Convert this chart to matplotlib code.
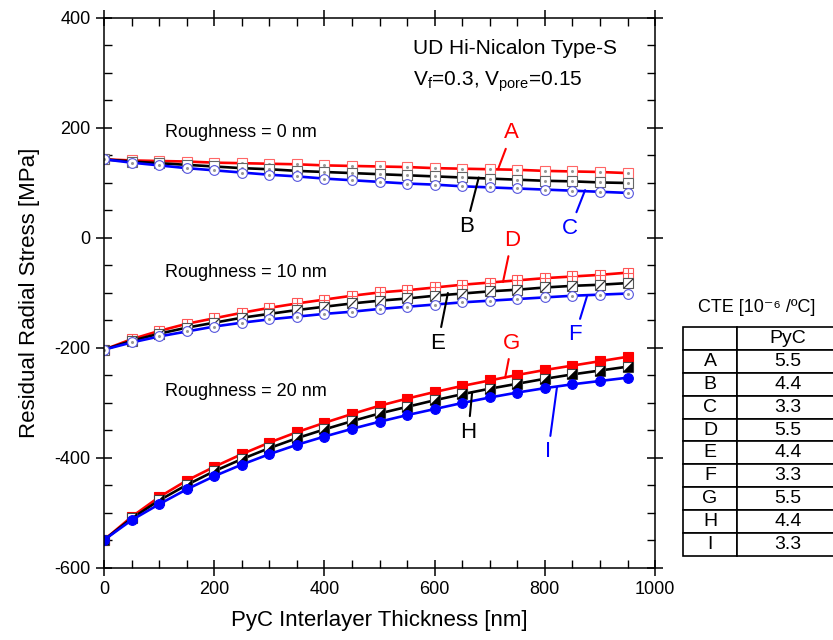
## Residual radial stress vs PyC interlayer thickness
## Three roughness levels, three PyC CTE values each

import matplotlib
matplotlib.use('Agg')
import matplotlib.pyplot as plt
from matplotlib.path import Path
from matplotlib.ticker import MultipleLocator

plt.rcParams['font.family'] = ['Liberation Sans', 'DejaVu Sans']
plt.rcParams['mathtext.fontset'] = 'custom'
plt.rcParams['mathtext.rm'] = 'Liberation Sans'
plt.rcParams['axes.unicode_minus'] = False

# PyC thickness [nm]
thick = [0, 50, 100, 150, 200, 250, 300, 350, 400, 450,
         500, 550, 600, 650, 700, 750, 800, 850, 900, 950]

# Roughness = 0 nm
stress_A = [143, 141, 140, 139, 137, 136, 135, 134, 132, 131,
            130, 129, 127, 126, 125, 124, 122, 121, 120, 118]
stress_B = [143, 139, 136, 133, 130, 127, 125, 122, 120, 118,
            116, 114, 112, 110, 108, 106, 104, 103, 101, 100]
stress_C = [143, 137, 132, 127, 123, 119, 115, 112, 108, 105,
            102, 99, 97, 94, 92, 90, 88, 86, 84, 82]

# Roughness = 10 nm
stress_D = [-203, -184, -169, -156, -146, -136, -127, -119, -112, -105,
            -99, -95, -90, -85, -81, -77, -73, -70, -67, -63]
stress_E = [-203, -187, -174, -163, -154, -145, -138, -131, -125, -119,
            -114, -110, -105, -101, -97, -94, -90, -87, -85, -82]
stress_F = [-203, -190, -179, -170, -161, -154, -148, -143, -138, -134,
            -129, -125, -121, -117, -114, -111, -108, -105, -103, -101]

# Roughness = 20 nm
stress_G = [-549, -507, -471, -441, -416, -393, -372, -353, -336, -320,
            -305, -292, -280, -269, -259, -249, -240, -232, -224, -216]
stress_H = [-549, -510, -477, -449, -424, -402, -382, -364, -348, -333,
            -319, -307, -295, -284, -274, -265, -256, -248, -241, -234]
stress_I = [-549, -513, -484, -457, -433, -412, -393, -376, -361, -347,
            -334, -322, -311, -300, -290, -281, -273, -266, -260, -254]

# table of CTE values
table_labels = ['A', 'B', 'C', 'D', 'E', 'F', 'G', 'H', 'I']
table_cte = ['5.5', '4.4', '3.3', '5.5', '4.4', '3.3', '5.5', '4.4', '3.3']

red = '#ff0000'
blue = '#0000ff'
black = '#000000'

# custom markers
diag = Path([(-1, -1), (1, 1)], [Path.MOVETO, Path.LINETO])
tri = Path([(-1, -1), (1, -1), (1, 1), (-1, -1)],
           [Path.MOVETO, Path.LINETO, Path.LINETO, Path.CLOSEPOLY])

fig = plt.figure(figsize=(8.33, 6.4), dpi=100)
ax = fig.add_axes([0.1249, 0.1125, 0.6615, 0.8594])

lw = 1.9
ms = 7

# --- roughness 0
ax.plot(thick, stress_A, color=red, lw=lw, marker='s', ms=ms, mfc='white', mec='#ff6666', mew=0.8)
ax.plot(thick, stress_A, ls='none', marker='o', ms=1.2, color='#999999')
ax.plot(thick, stress_B, color=black, lw=lw, marker='s', ms=ms, mfc='white', mec='#666666', mew=0.8)
ax.plot(thick, stress_B, ls='none', marker='o', ms=1.2, color='#999999')
ax.plot(thick, stress_C, color=blue, lw=lw, marker='o', ms=ms, mfc='white', mec='#5555dd', mew=0.8)
ax.plot(thick, stress_C, ls='none', marker='o', ms=1.2, color='#999999')

# --- roughness 10
ax.plot(thick, stress_D, color=red, lw=lw, marker='s', ms=ms, mfc='white', mec='#ff5555', mew=0.8)
ax.plot(thick, stress_D, ls='none', marker='+', ms=ms, mec='#ff5555', mew=0.8)
ax.plot(thick, stress_E, color=black, lw=lw, marker='s', ms=ms, mfc='white', mec='#555555', mew=0.8)
ax.plot(thick, stress_E, ls='none', marker=diag, ms=ms, mec='#333333', mew=0.9)
ax.plot(thick, stress_F, color=blue, lw=lw, marker='o', ms=ms, mfc='white', mec='#5555dd', mew=0.8)
ax.plot(thick, stress_F, ls='none', marker='o', ms=1.2, color='#999999')

# --- roughness 20
ax.plot(thick, stress_G, color=red, lw=lw, marker='s', ms=ms, mfc=red, mec=red, mew=0.8)
ax.plot(thick, stress_H, color=black, lw=lw, marker='s', ms=ms, mfc='white', mec='#444444', mew=0.8)
ax.plot(thick, stress_H, ls='none', marker=tri, ms=ms, mfc=black, mec=black, mew=0.3)
ax.plot(thick, stress_I, color=blue, lw=lw, marker='o', ms=ms, mfc=blue, mec=blue, mew=0.8)

# curve labels with leader lines
labels = [
    ('A', red, (715, 125), (740, 191)),
    ('B', black, (680, 110), (657, 20)),
    ('C', blue, (873, 87), (846, 18)),
    ('D', red, (724, -80), (740, -4)),
    ('E', black, (624, -100), (606, -191)),
    ('F', blue, (877, -104), (855, -176)),
    ('G', red, (728, -254), (740, -191)),
    ('H', black, (668, -281), (661, -353)),
    ('I', blue, (822, -271), (806, -389)),
]
for txt, col, xy, xyt in labels:
    ax.annotate(txt, xy=xy, xytext=xyt, color=col, fontsize=16,
                ha='center', va='center',
                arrowprops=dict(arrowstyle='-', color=col, lw=1.5,
                                shrinkA=2, shrinkB=0))

ax.text(111, 192, 'Roughness = 0 nm', fontsize=13, va='center')
ax.text(111, -62, 'Roughness = 10 nm', fontsize=13, va='center')
ax.text(111, -280, 'Roughness = 20 nm', fontsize=13, va='center')

ax.text(561, 345, 'UD Hi-Nicalon Type-S', fontsize=15, va='center')
ax.text(561, 284, r'V$_\mathregular{f}$=0.3, V$_\mathregular{pore}$=0.15',
        fontsize=15, va='center')

# axes
ax.set_xlim(0, 1000)
ax.set_ylim(-600, 400)
ax.xaxis.set_major_locator(MultipleLocator(200))
ax.xaxis.set_minor_locator(MultipleLocator(50))
ax.yaxis.set_major_locator(MultipleLocator(200))
ax.yaxis.set_minor_locator(MultipleLocator(50))
ax.tick_params(which='major', direction='inout', length=12, width=1.1,
               top=True, right=True, labelsize=13)
ax.tick_params(which='minor', direction='in', length=6, width=1.0,
               top=True, right=True)
for s in ax.spines.values():
    s.set_linewidth(1.1)

ax.set_xlabel('PyC Interlayer Thickness [nm]', fontsize=16)
ax.set_ylabel('Residual Radial Stress [MPa]', fontsize=16)
ax.xaxis.set_label_coords(0.5, -0.076)
ax.yaxis.set_label_coords(-0.117, 0.5)

# CTE table on the right
ax.text(1.185, 0.473, 'CTE [10⁻⁶ /ºC]', transform=ax.transAxes,
        fontsize=13, ha='center', va='center')
cells = [['', 'PyC']] + [[l, v] for l, v in zip(table_labels, table_cte)]
tab = ax.table(cellText=cells, cellLoc='center', colWidths=[0.346, 0.654],
               bbox=[1.0508, 0.0218, 0.2832, 0.4164])
tab.auto_set_font_size(False)
tab.set_fontsize(14)
for cell in tab.get_celld().values():
    cell.set_linewidth(1.2)

plt.savefig('out.png', dpi=100)
